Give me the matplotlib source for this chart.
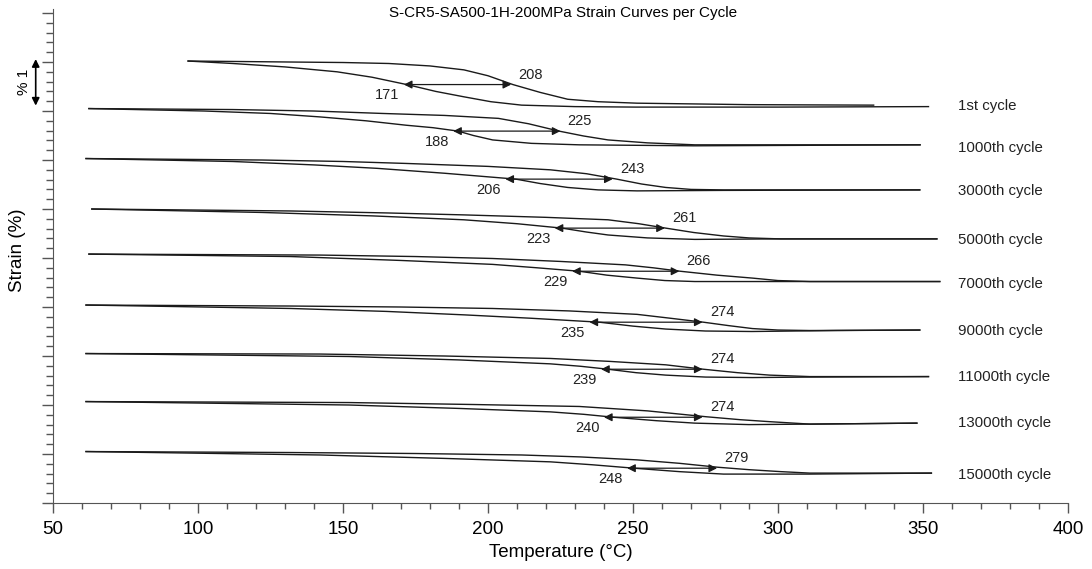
import matplotlib.pyplot as plt
from matplotlib.ticker import MultipleLocator

plt.rcParams["font.family"] = ["Liberation Sans", "DejaVu Sans"]

# cycle names and read-off curves (temperature in C, strain in %)
cycles = ["1st cycle", "1000th cycle", "3000th cycle", "5000th cycle", "7000th cycle",
          "9000th cycle", "11000th cycle", "13000th cycle", "15000th cycle"]

heat_T = [
    [96.6, 115, 132, 150, 165.8, 180, 191.7, 200, 208.6, 218, 227.5, 238, 251.4, 290, 333],
    [62.4, 112, 140, 163.8, 185, 203.6, 214, 224.5, 233, 241.4, 255, 271.3, 349],
    [61.4, 122, 150, 171.8, 200, 221.5, 234, 244.4, 253, 261.3, 270, 281.2, 348.9],
    [63.4, 132, 165, 191.7, 220, 241.4, 252, 261.3, 271, 281.2, 290, 301, 354.8],
    [62.4, 142, 175, 201.6, 225, 247.4, 257, 266.3, 279, 291.2, 300, 311, 355.8],
    [61.4, 132, 170, 201.6, 228, 251.4, 263, 274.3, 283, 291.2, 300, 311, 348.9],
    [61.4, 142, 185, 221.5, 242, 261.3, 274.3, 286, 297.1, 311, 351.9],
    [61.4, 152, 195, 231.5, 255, 275.3, 287, 297.1, 311, 347.9],
    [61.4, 132, 175, 211.6, 232, 251.4, 266, 279.2, 290, 301, 311, 352.9],
]
heat_S = [
    [9.02, 9.01, 9.00, 8.99, 8.97, 8.92, 8.84, 8.72, 8.54, 8.38, 8.24, 8.19, 8.16, 8.13, 8.12],
    [8.05, 8.03, 8.00, 7.95, 7.91, 7.85, 7.74, 7.59, 7.49, 7.41, 7.35, 7.31, 7.31],
    [7.03, 7.00, 6.97, 6.93, 6.87, 6.80, 6.72, 6.61, 6.51, 6.44, 6.40, 6.39, 6.39],
    [6.00, 5.96, 5.92, 5.88, 5.83, 5.78, 5.70, 5.61, 5.52, 5.45, 5.41, 5.39, 5.39],
    [5.08, 5.06, 5.03, 4.99, 4.93, 4.86, 4.80, 4.73, 4.65, 4.59, 4.54, 4.52, 4.52],
    [4.04, 4.02, 4.00, 3.97, 3.92, 3.85, 3.77, 3.69, 3.62, 3.56, 3.53, 3.52, 3.53],
    [3.05, 3.04, 3.00, 2.95, 2.89, 2.82, 2.73, 2.66, 2.61, 2.58, 2.58],
    [2.07, 2.05, 2.01, 1.97, 1.88, 1.76, 1.70, 1.66, 1.61, 1.63],
    [1.05, 1.03, 1.01, 0.98, 0.94, 0.88, 0.81, 0.73, 0.68, 0.64, 0.61, 0.61],
]
cool_T = [
    [96.6, 112, 130, 148, 160, 172.8, 182, 191.7, 201, 211.6, 230, 251, 300, 351.9],
    [62.4, 102.2, 125, 142, 158, 171.8, 181, 189.7, 195, 201.6, 215, 231.5, 271, 349],
    [61.4, 112, 140, 161.8, 185, 209.6, 218, 227.5, 238, 251.4, 281, 348.9],
    [63.4, 122, 160, 191.7, 210, 225.5, 234, 241.4, 255, 271.3, 300, 354.8],
    [62.4, 132, 170, 201.6, 217, 231.5, 241, 251.4, 261, 271.3, 311, 355.8],
    [61.4, 132, 165, 191.7, 215, 238.4, 250, 261.3, 275, 291, 320, 348.9],
    [61.4, 152, 190, 221.5, 232, 241.4, 251, 261.3, 275, 291.2, 311, 351.9],
    [61.4, 152, 190, 221.5, 233, 243.4, 258, 271.3, 290, 311, 347.9],
    [61.4, 142, 185, 221.5, 236, 250.4, 266, 281.2, 311, 352.9],
]
cool_S = [
    [9.02, 8.97, 8.90, 8.80, 8.69, 8.53, 8.40, 8.29, 8.19, 8.12, 8.09, 8.08, 8.08, 8.09],
    [8.05, 8.00, 7.95, 7.88, 7.80, 7.71, 7.66, 7.59, 7.50, 7.41, 7.34, 7.31, 7.29, 7.31],
    [7.03, 6.97, 6.90, 6.83, 6.73, 6.61, 6.52, 6.44, 6.39, 6.37, 6.38, 6.39],
    [6.00, 5.93, 5.86, 5.78, 5.70, 5.61, 5.53, 5.47, 5.41, 5.38, 5.39, 5.39],
    [5.08, 5.03, 4.95, 4.87, 4.80, 4.73, 4.65, 4.59, 4.54, 4.52, 4.52, 4.52],
    [4.04, 3.97, 3.91, 3.84, 3.77, 3.69, 3.61, 3.55, 3.51, 3.50, 3.52, 3.53],
    [3.05, 2.99, 2.92, 2.84, 2.79, 2.73, 2.66, 2.61, 2.57, 2.56, 2.57, 2.58],
    [2.07, 2.00, 1.93, 1.86, 1.81, 1.75, 1.68, 1.63, 1.60, 1.61, 1.63],
    [1.05, 0.98, 0.91, 0.84, 0.78, 0.71, 0.64, 0.59, 0.59, 0.61],
]

# transformation temperatures marked by the double arrows
t_low = [171, 188, 206, 223, 229, 235, 239, 240, 248]
t_high = [208, 225, 243, 261, 266, 274, 274, 274, 279]
arrow_S = [8.54, 7.59, 6.61, 5.61, 4.73, 3.69, 2.73, 1.75, 0.71]
label_S = [8.10, 7.25, 6.37, 5.37, 4.47, 3.51, 2.57, 1.63, 0.57]

fig = plt.figure(figsize=(10.92, 5.69), dpi=100)
ax = fig.add_axes([0.0485, 0.116, 0.9295, 0.868])

line_c = "#1a1a1a"
for i in range(len(cycles)):
    ax.plot(heat_T[i], heat_S[i], color=line_c, lw=1.0)
    ax.plot(cool_T[i], cool_S[i], color=line_c, lw=1.0)
    ax.annotate("", xy=(t_low[i], arrow_S[i]), xytext=(t_high[i], arrow_S[i]),
                arrowprops=dict(arrowstyle="<|-|>", color=line_c, lw=0.9,
                                mutation_scale=12, shrinkA=0, shrinkB=0))
    ax.text(t_high[i] + 2.5, arrow_S[i] + 0.06, str(t_high[i]), fontsize=10.5,
            ha="left", va="bottom", color="#222222")
    ax.text(t_low[i] - 1.5, arrow_S[i] - 0.08, str(t_low[i]), fontsize=10.5,
            ha="right", va="top", color="#222222")
    ax.text(362, label_S[i], cycles[i], fontsize=10.8, ha="left", va="center",
            color="#222222")

ax.set_xlim(50, 400)
ax.set_ylim(0, 10.08)
ax.xaxis.set_major_locator(MultipleLocator(50))
ax.xaxis.set_minor_locator(MultipleLocator(10))
ax.yaxis.set_major_locator(MultipleLocator(1))
ax.yaxis.set_minor_locator(MultipleLocator(0.2))
ax.set_yticklabels([])
ax.tick_params(axis="x", which="major", length=7, width=1, color="#555555",
               labelsize=13.5, pad=6)
ax.tick_params(axis="x", which="minor", length=4, width=1, color="#555555")
ax.tick_params(axis="y", which="major", length=8, width=1, color="#555555")
ax.tick_params(axis="y", which="minor", length=5, width=1, color="#555555")
for s in ["top", "right"]:
    ax.spines[s].set_visible(False)
for s in ["left", "bottom"]:
    ax.spines[s].set_color("#555555")

ax.set_xlabel("Temperature (°C)", fontsize=13.5, labelpad=4)
fig.text(0.016, 0.56, "Strain (%)", rotation=90, fontsize=13.5, ha="center", va="center")
fig.text(0.5156, 0.978, "S-CR5-SA500-1H-200MPa Strain Curves per Cycle", fontsize=11,
         ha="center", va="center")

# 1 % scale bar to the left of the axis
ax.annotate("", xy=(-0.017, 8.11), xytext=(-0.017, 9.06),
            xycoords=("axes fraction", "data"), textcoords=("axes fraction", "data"),
            arrowprops=dict(arrowstyle="<|-|>", color="black", lw=1.2,
                            mutation_scale=11, shrinkA=0, shrinkB=0),
            annotation_clip=False)
ax.text(-0.029, 8.6, "% 1", rotation=90, fontsize=11, ha="center", va="center",
        transform=ax.get_yaxis_transform(), clip_on=False)

plt.savefig("out.png")
